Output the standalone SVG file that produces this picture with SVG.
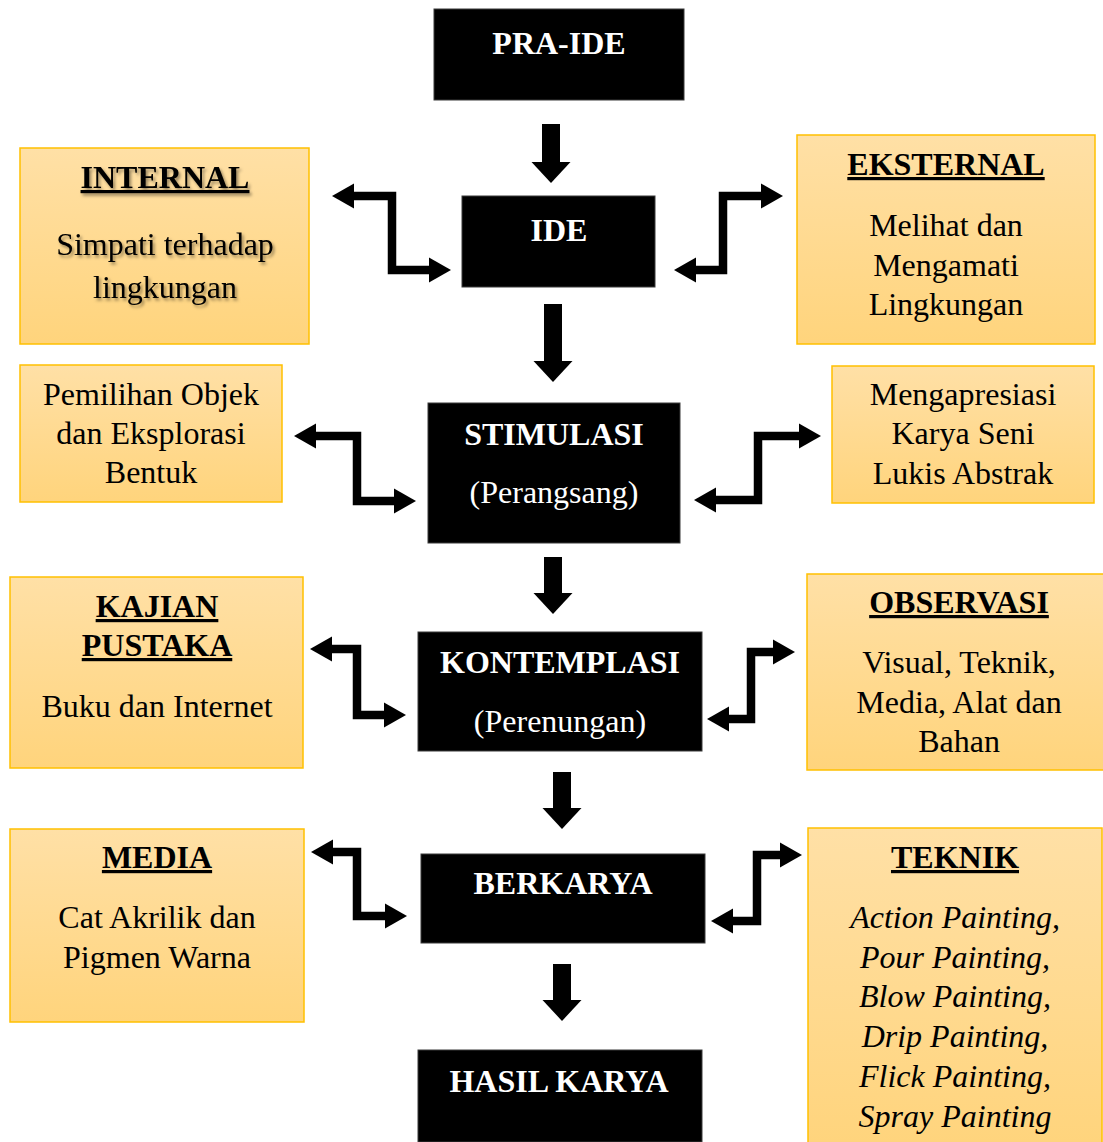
<svg xmlns="http://www.w3.org/2000/svg" width="1103" height="1142" viewBox="0 0 1103 1142">
<style>
  text { font-family: "Liberation Serif", "Times New Roman", serif; font-size: 32px; text-anchor: middle; }
  .w { fill: #ffffff; }
  .b { font-weight: bold; }
  .u { font-weight: bold; text-decoration: underline; text-decoration-thickness: 3px; }
  .i { font-style: italic; }
  .dark { fill: #000000; stroke: #3a3a3a; stroke-width: 1; }
  .note { fill: url(#og); stroke: #FFC000; stroke-width: 1.5; }
  .elbow { fill: none; stroke: #000; stroke-width: 8.5; marker-start: url(#eh); marker-end: url(#eh); }
  .down { fill: none; stroke: #000; stroke-width: 18; marker-end: url(#dh); }
  .sh { filter: url(#tsh); }
</style>
<defs>
  <linearGradient id="og" x1="0" y1="0" x2="0" y2="1">
    <stop offset="0" stop-color="#FFE0A6"/>
    <stop offset="1" stop-color="#FFD47C"/>
  </linearGradient>
  <marker id="eh" markerUnits="userSpaceOnUse" markerWidth="24" markerHeight="26" refX="1" refY="12.5" orient="auto-start-reverse" overflow="visible">
    <path d="M0,0 L22,12.5 L0,25 z" fill="#000"/>
  </marker>
  <marker id="dh" markerUnits="userSpaceOnUse" markerWidth="24" markerHeight="40" refX="1" refY="19.5" orient="auto" overflow="visible">
    <path d="M0,0 L21,19.5 L0,39 z" fill="#000"/>
  </marker>
  <filter id="tsh" x="-10%" y="-20%" width="120%" height="150%">
    <feDropShadow dx="2" dy="2.5" stdDeviation="1.5" flood-color="#000" flood-opacity="0.4"/>
  </filter>
</defs>

<g id="connectors">
  <path class="down" d="M551,124 V163"/>
  <path class="down" d="M553,304 V362"/>
  <path class="down" d="M553,557 V594"/>
  <path class="down" d="M562,772 V809"/>
  <path class="down" d="M562,964 V1001"/>
  <path class="elbow" d="M353,196 H392 V270 H430"/>
  <path class="elbow" d="M695,270 H723 V196 H762"/>
  <path class="elbow" d="M315,436 H357 V501 H395"/>
  <path class="elbow" d="M715,500 H758 V436 H800"/>
  <path class="elbow" d="M331,649 H357 V715 H385"/>
  <path class="elbow" d="M728,719 H751 V652 H774"/>
  <path class="elbow" d="M332,852 H357 V916 H386"/>
  <path class="elbow" d="M732,921 H757 V855 H781"/>
</g>

<g id="pra-ide">
  <rect class="dark" x="434" y="9" width="250" height="91"/>
  <text class="w b" x="559" y="54">PRA-IDE</text>
</g>
<g id="ide">
  <rect class="dark" x="462" y="196" width="193" height="91"/>
  <text class="w b" x="559" y="241">IDE</text>
</g>
<g id="stimulasi">
  <rect class="dark" x="428" y="403" width="252" height="140"/>
  <text class="w b" x="554" y="445">STIMULASI</text>
  <text class="w" x="554" y="503">(Perangsang)</text>
</g>
<g id="kontemplasi">
  <rect class="dark" x="418" y="632" width="284" height="119"/>
  <text class="w b" x="560" y="673">KONTEMPLASI</text>
  <text class="w" x="560" y="732">(Perenungan)</text>
</g>
<g id="berkarya">
  <rect class="dark" x="421" y="854" width="284" height="89"/>
  <text class="w b" x="563" y="894">BERKARYA</text>
</g>
<g id="hasil-karya">
  <rect class="dark" x="418" y="1050" width="284" height="92"/>
  <text class="w b" x="559" y="1092">HASIL KARYA</text>
</g>

<g id="internal">
  <rect class="note" x="20" y="148" width="289" height="196"/>
  <text class="u sh" x="165" y="188">INTERNAL</text>
  <text class="sh" x="165" y="255">Simpati terhadap</text>
  <text class="sh" x="165" y="298">lingkungan</text>
</g>
<g id="eksternal">
  <rect class="note" x="797" y="135" width="298" height="209"/>
  <text class="u" x="946" y="175">EKSTERNAL</text>
  <text x="946" y="236">Melihat dan</text>
  <text x="946" y="276">Mengamati</text>
  <text x="946" y="315">Lingkungan</text>
</g>
<g id="pemilihan">
  <rect class="note" x="20" y="365" width="262" height="137"/>
  <text x="151" y="405">Pemilihan Objek</text>
  <text x="151" y="444">dan Eksplorasi</text>
  <text x="151" y="483">Bentuk</text>
</g>
<g id="mengapresiasi">
  <rect class="note" x="832" y="366" width="262" height="137"/>
  <text x="963" y="405">Mengapresiasi</text>
  <text x="963" y="444">Karya Seni</text>
  <text x="963" y="484">Lukis Abstrak</text>
</g>
<g id="kajian-pustaka">
  <rect class="note" x="10" y="577" width="293" height="191"/>
  <text class="u" x="157" y="617">KAJIAN</text>
  <text class="u" x="157" y="656">PUSTAKA</text>
  <text x="157" y="717">Buku dan Internet</text>
</g>
<g id="observasi">
  <rect class="note" x="807" y="574" width="300" height="196"/>
  <text class="u" x="959" y="613">OBSERVASI</text>
  <text x="959" y="673">Visual, Teknik,</text>
  <text x="959" y="713">Media, Alat dan</text>
  <text x="959" y="752">Bahan</text>
</g>
<g id="media">
  <rect class="note" x="10" y="829" width="294" height="193"/>
  <text class="u" x="157" y="868">MEDIA</text>
  <text x="157" y="928">Cat Akrilik dan</text>
  <text x="157" y="968">Pigmen Warna</text>
</g>
<g id="teknik">
  <rect class="note" x="808" y="828" width="294" height="320"/>
  <text class="u" x="955" y="868">TEKNIK</text>
  <text class="i" x="955" y="928">Action Painting,</text>
  <text class="i" x="955" y="968">Pour Painting,</text>
  <text class="i" x="955" y="1007">Blow Painting,</text>
  <text class="i" x="955" y="1047">Drip Painting,</text>
  <text class="i" x="955" y="1087">Flick Painting,</text>
  <text class="i" x="955" y="1127">Spray Painting</text>
</g>
</svg>
